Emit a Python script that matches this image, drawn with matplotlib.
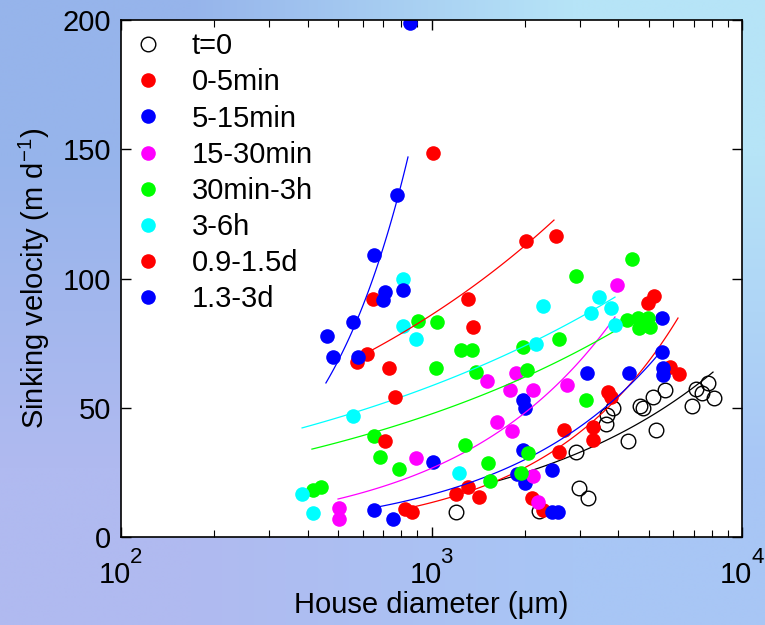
import numpy as np
import matplotlib
matplotlib.use("Agg")
import matplotlib.pyplot as plt

# house diameter (um) and sinking velocity (m/d) per time class
t0_x = [1199, 2220, 2920, 2985, 3192, 3648, 3675, 3841, 4296, 4693, 4799, 5169, 5284,
        5649, 6902, 7111, 7434, 7774, 8125]
t0_y = [9.7, 10.1, 32.9, 19.0, 15.1, 43.7, 47.2, 49.9, 37.1, 50.7, 49.9, 54.2, 41.4,
        56.9, 50.7, 57.3, 55.7, 59.6, 53.8]

m0_5_x = [821, 865, 1199, 1311, 1422, 2107, 2287, 2574, 2671, 3312, 3312, 3702, 3785,
          4980, 5207, 5863, 6267]
m0_5_y = [10.8, 9.7, 16.6, 19.3, 15.5, 15.1, 10.4, 32.9, 41.4, 42.6, 37.5, 56.1, 54.2,
          90.5, 93.2, 65.8, 63.1]

m5_15_x = [653, 752, 1011, 1885, 2000, 1971, 2000, 1971, 2444, 2444, 2555, 3168, 4327,
           5525, 5525, 5566, 5566]
m5_15_y = [10.4, 7.0, 29.0, 24.4, 20.9, 53.0, 49.9, 33.7, 25.9, 9.7, 9.7, 63.4, 63.4,
           84.7, 71.6, 65.4, 62.7]

m15_30_x = [504, 504, 892, 1509, 1626, 1790, 1816, 1871, 2122, 2122, 2203, 2732, 3957]
m15_30_y = [11.2, 7.0, 30.6, 60.3, 44.5, 56.9, 41.0, 63.4, 56.9, 23.6, 13.5, 58.8, 97.5]

m30_3h_x = [415, 441, 653, 682, 786, 905, 1042, 1034, 1245, 1350, 1391, 1282, 1521, 1543,
            1971, 2030, 2045, 1942, 2574, 2920, 3145, 4424, 4262, 4625, 4799, 4980,
            5055, 4659]
m30_3h_y = [18.2, 19.3, 39.1, 30.9, 26.3, 83.6, 83.2, 65.4, 72.3, 72.3, 63.8, 35.6, 28.6,
            21.7, 73.5, 64.6, 32.5, 24.8, 76.6, 101.0, 53.0, 107.5, 83.9, 84.7, 82.0,
            84.7, 81.2, 80.9]

h3_6_x = [383, 415, 559, 809, 809, 892, 1227, 2171, 2287, 3264, 3463, 3785, 3899]
h3_6_y = [16.6, 9.3, 46.8, 99.8, 81.6, 76.6, 24.8, 74.7, 89.4, 86.7, 92.8, 88.6, 82.0]

d09_15_x = [576, 620, 648, 730, 763, 708, 1011, 1311, 1361, 2015, 2518]
d09_15_y = [67.7, 70.8, 92.1, 65.4, 54.2, 37.1, 148.5, 92.1, 81.2, 114.5, 116.4]

d13_3_x = [461, 482, 559, 580, 653, 698, 708, 774, 809, 853]
d13_3_y = [77.8, 69.6, 83.2, 69.6, 109.1, 91.7, 94.8, 132.3, 95.6, 198.8]

# power-law fits: end points of each curve (x range, y at both ends)
fit_t0 = ([1543, 8066], [20.9, 63.8])
fit_m0_5 = ([872, 6221], [11.6, 84.7])
fit_m5_15 = ([643, 5323], [11.2, 70.0])
fit_m15_30 = ([500, 3899], [14.7, 85.1])
fit_m30_3h = ([412, 3841], [34.0, 79.3])
fit_h3_6 = ([383, 3899], [42.2, 92.8])
fit_d09_15 = ([643, 2480], [72.3, 122.6])
fit_d13_3 = ([457, 840], [59.6, 147.0])

labels = ["t=0", "0-5min", "5-15min", "15-30min", "30min-3h", "3-6h", "0.9-1.5d", "1.3-3d"]
colors = ["black", "#ff0000", "#0000ff", "#ff00ff", "#00ff00", "#00ffff", "#ff0000", "#0000ff"]
series = [(t0_x, t0_y, fit_t0), (m0_5_x, m0_5_y, fit_m0_5), (m5_15_x, m5_15_y, fit_m5_15),
          (m15_30_x, m15_30_y, fit_m15_30), (m30_3h_x, m30_3h_y, fit_m30_3h),
          (h3_6_x, h3_6_y, fit_h3_6), (d09_15_x, d09_15_y, fit_d09_15),
          (d13_3_x, d13_3_y, fit_d13_3)]

x_major = [100, 1000, 10000]
x_exps = ["2", "3", "4"]

plt.rcParams['font.family'] = ['Liberation Sans', 'DejaVu Sans']
plt.rcParams['mathtext.fontset'] = 'custom'
plt.rcParams['mathtext.rm'] = 'Liberation Sans'
plt.rcParams['mathtext.it'] = 'Liberation Sans:italic'
plt.rcParams['mathtext.default'] = 'regular'

fig = plt.figure(figsize=(7.65, 6.25), dpi=100)

# blue gradient backdrop
bg = fig.add_axes([0, 0, 1, 1], zorder=-1)
corners = np.array([[[150, 180, 235], [182, 228, 247]],
                    [[176, 186, 240], [168, 198, 245]]]) / 255.0
bg.imshow(corners, interpolation='bilinear', aspect='auto', extent=[0, 1, 0, 1])
bg.set_axis_off()

ax = fig.add_axes([121 / 765, 1 - 537 / 625, 621 / 765, 517 / 625])
ax.set_facecolor('white')

for i, (xs, ys, fit) in enumerate(series):
    c = colors[i]
    if i == 0:
        ax.plot(xs, ys, 'o', ms=10.5, mfc='none', mec='black', mew=1.0, label=labels[i])
    else:
        ax.plot(xs, ys, 'o', ms=10.5, mfc=c, mec=c, mew=0, label=labels[i])
    (x0, x1), (y0, y1) = fit
    b = np.log(y1 / y0) / np.log(x1 / x0)
    fx = np.geomspace(x0, x1, 100)
    ax.plot(fx, y0 * (fx / x0) ** b, '-', color=c, lw=0.9)

ax.set_xscale('log')
ax.set_xlim(100, 10000)
ax.set_ylim(0, 200)
ax.set_yticks([0, 50, 100, 150, 200])
ax.set_xticks(x_major)
ax.set_xticklabels([''] * len(x_major))
ax.xaxis.set_minor_formatter(plt.NullFormatter())
ax.tick_params(which='both', direction='in', top=True, right=True, labelsize=21)
ax.tick_params(which='major', length=7, width=1, pad=7)
ax.tick_params(which='minor', length=5, width=0.8)
ax.tick_params(axis='y', which='minor', left=False, right=False)
for s in ax.spines.values():
    s.set_linewidth(1.2)

# MATLAB-style 10^n labels: big base, raised exponent
for xv, e in zip(x_major, x_exps):
    ax.annotate('10', xy=(xv, 0), xycoords=('data', 'axes fraction'),
                xytext=(-6, -46), textcoords='offset pixels',
                ha='center', va='baseline', fontsize=21)
    ax.annotate(e, xy=(xv, 0), xycoords=('data', 'axes fraction'),
                xytext=(9, -26), textcoords='offset pixels',
                ha='left', va='baseline', fontsize=16)

ax.set_xlabel('House diameter (μm)', fontsize=21)
ax.xaxis.set_label_coords(0.5, -0.132)
ax.xaxis.label.set_va('center')
ax.set_ylabel('Sinking velocity (m d$^{-1}$)', fontsize=21, labelpad=8)

ax.legend(loc='upper left', bbox_to_anchor=(0.0, 1.0), frameon=False, fontsize=21,
          handlelength=1.0, handletextpad=1.0, borderpad=0.42, borderaxespad=0,
          labelspacing=0.28, numpoints=1)

fig.savefig('out.png', dpi=100)
